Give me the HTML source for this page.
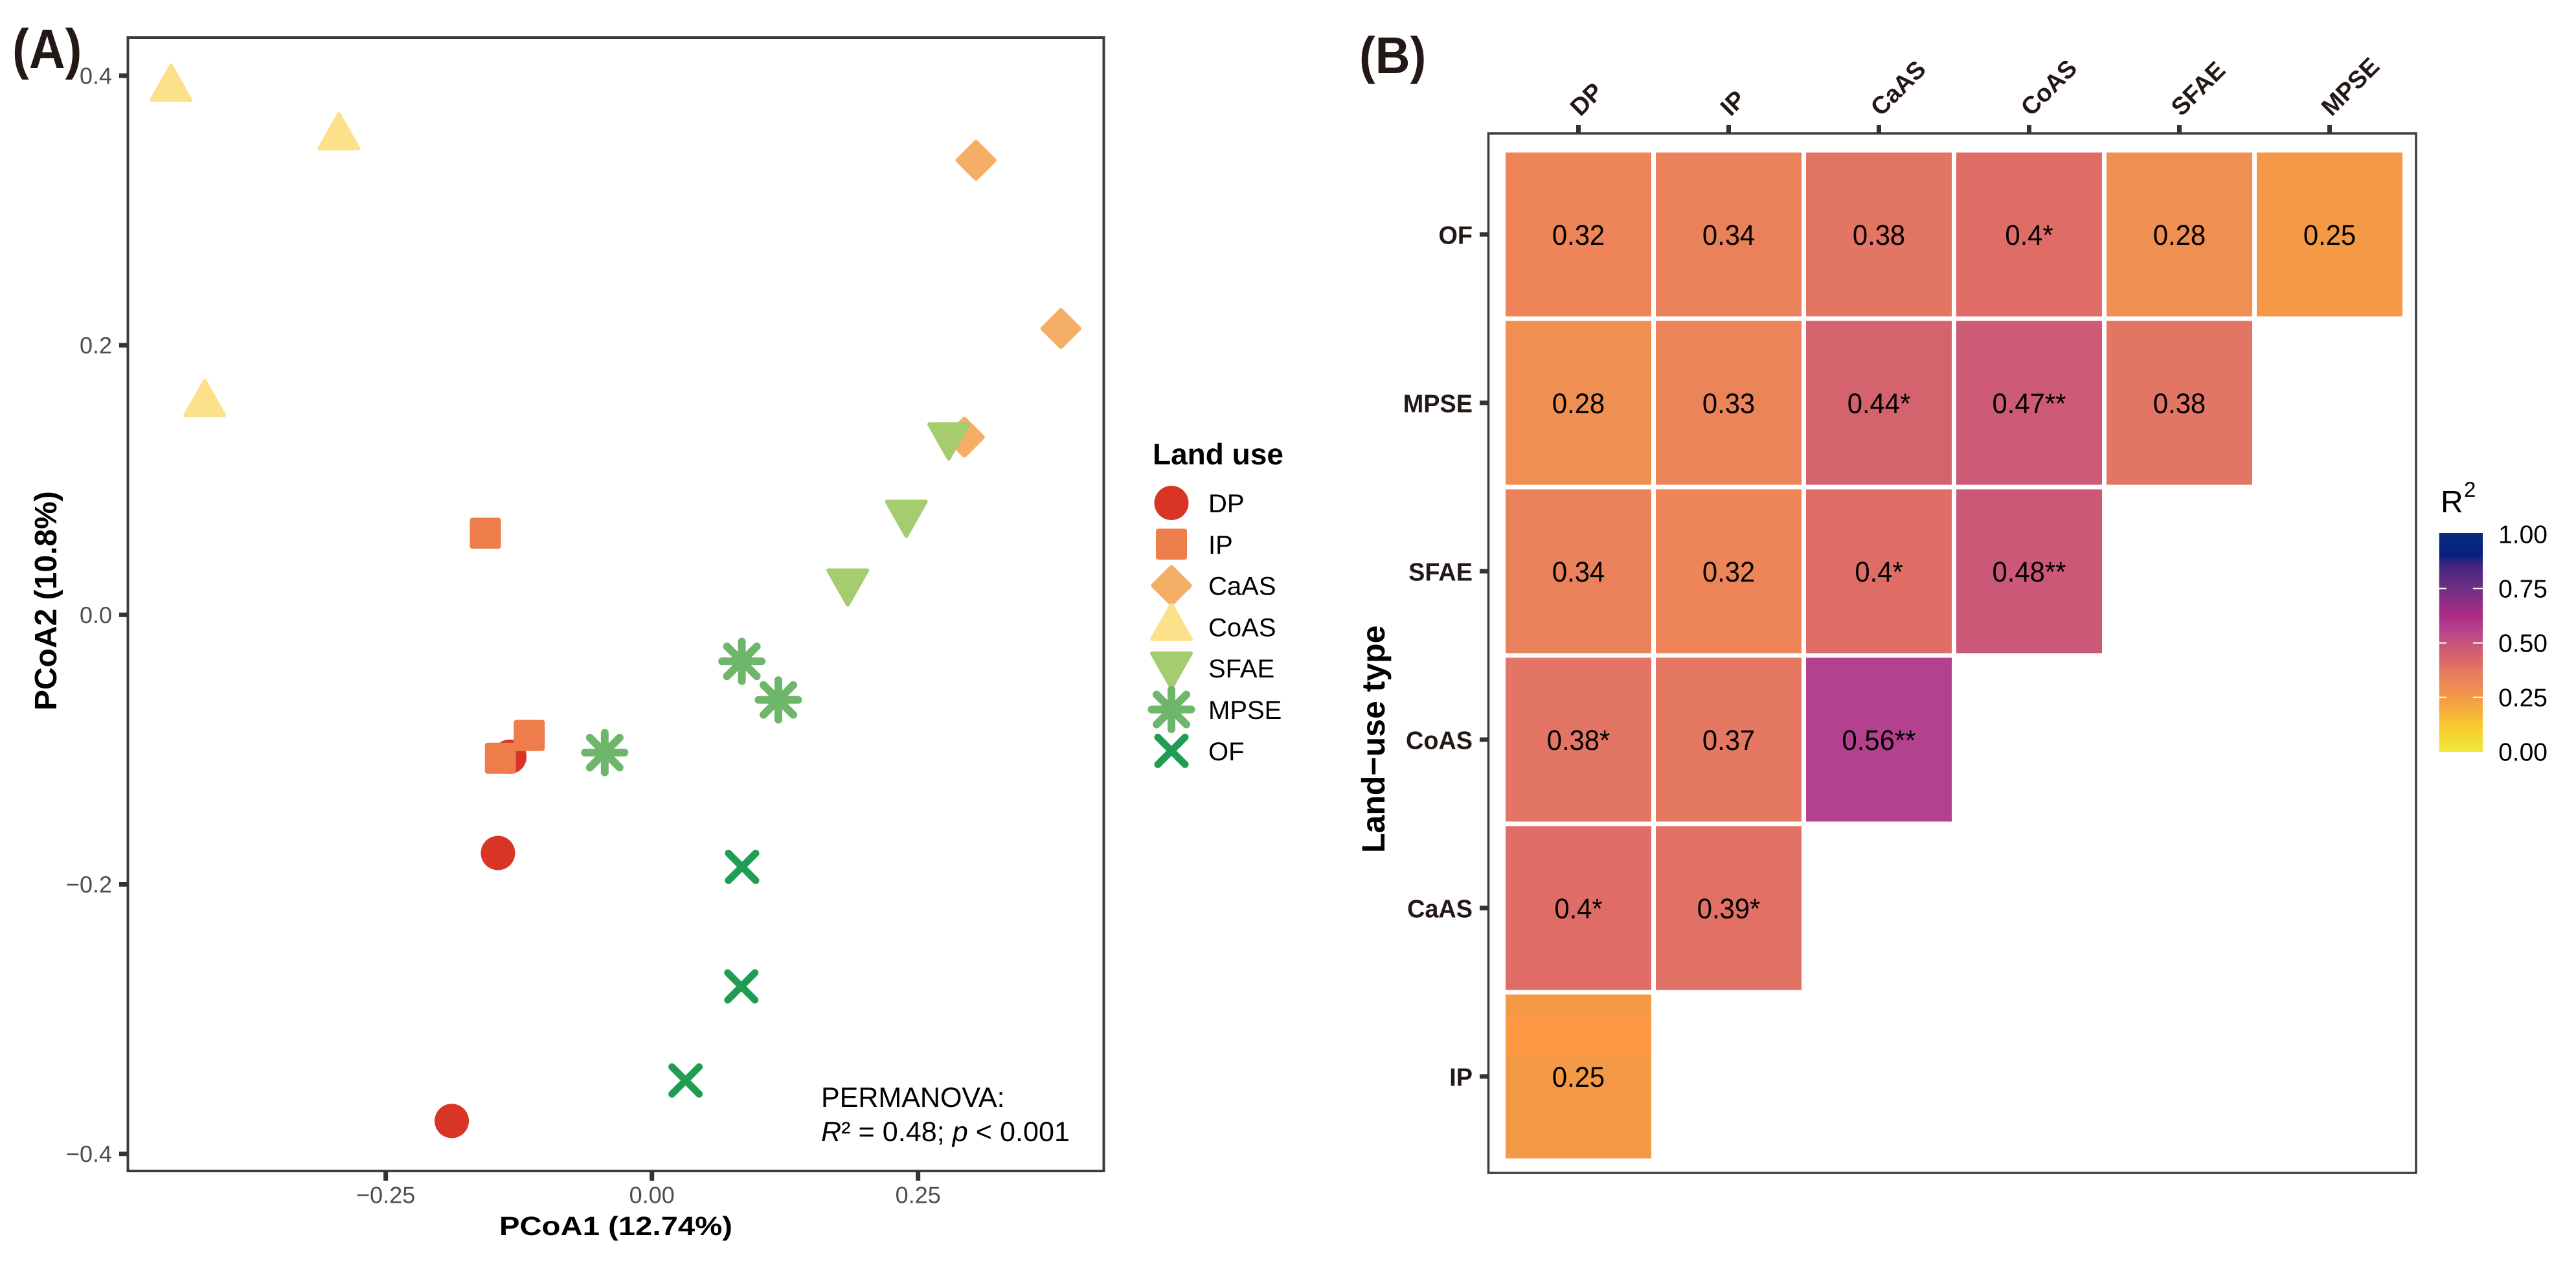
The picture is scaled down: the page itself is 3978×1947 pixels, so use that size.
<!DOCTYPE html>
<html lang="en">
<head>
<meta charset="utf-8">
<title>PCoA ordination and pairwise PERMANOVA heatmap</title>
<style>
  html, body { margin: 0; padding: 0; background: #ffffff; }
  body { width: 3978px; height: 1947px; overflow: hidden; }
  svg { display: block; font-family: "Liberation Sans", Arial, sans-serif; text-rendering: geometricPrecision; }
  text { fill: #000000; }
</style>
</head>
<body>
<svg id="figure" xmlns="http://www.w3.org/2000/svg" width="3978" height="1947" viewBox="0 0 3978 1947">
  <rect x="0" y="0" width="3978" height="1947" fill="#ffffff"/>
  <defs>
    <linearGradient id="colorbar-gradient" x1="0" y1="1" x2="0" y2="0"></linearGradient>
  </defs>

  <text transform="translate(19,105) scale(0.9,1)" font-size="86" font-weight="700" style="fill:#231815">(A)</text>
  <text transform="translate(2099,113) scale(0.93,1)" font-size="80" font-weight="700" style="fill:#231815">(B)</text>

  <g id="panel-a">
    <rect x="197.5" y="58" width="1507" height="1750" fill="none" stroke="#3c3c3c" stroke-width="4"/>
    <g id="a-axes"></g>
    <g id="a-points"></g>
    <text x="771" y="1907" font-size="41" font-weight="700" textLength="360" lengthAdjust="spacingAndGlyphs">PCoA1 (12.74%)</text>
    <text transform="translate(87,1097) rotate(-90)" font-size="48" font-weight="700">PCoA2 (10.8%)</text>
    <text x="1268" y="1709" font-size="43">PERMANOVA:</text>
    <text x="1268" y="1762" font-size="43" textLength="384" lengthAdjust="spacingAndGlyphs"><tspan font-style="italic">R</tspan>² = 0.48; <tspan font-style="italic">p</tspan> &lt; 0.001</text>
  </g>

  <g id="a-legend">
    <text x="1780" y="717" font-size="46" font-weight="700">Land use</text>
  </g>

  <g id="panel-b">
    <g id="b-cells"></g>
    <rect x="2298.5" y="206" width="1432.5" height="1605" fill="none" stroke="#3c3c3c" stroke-width="3.5"/>
    <g id="b-axes"></g>
    <text transform="translate(2138,1317) rotate(-90)" font-size="50" font-weight="700">Land−use type</text>
  </g>

  <g id="b-legend">
    <text x="3769" y="791" font-size="48">R</text>
    <text x="3805" y="767" font-size="33">2</text>
    <rect x="3766.7" y="823" width="67.3" height="338" fill="url(#colorbar-gradient)"/>
    <g id="b-legend-ticks"></g>
  </g>
</svg>

<script>
// ---------- Panel A data ----------
const xTickValues = [-0.25, 0, 0.25];
const xTickLabels = ['−0.25', '0.00', '0.25'];
const yTickValues = [0.4, 0.2, 0, -0.2, -0.4];
const yTickLabels = ['0.4', '0.2', '0.0', '−0.2', '−0.4'];

const seriesNames = ['DP', 'IP', 'CaAS', 'CoAS', 'SFAE', 'MPSE', 'OF'];

const dpX = [-0.188, -0.1446, -0.1338];
const dpY = [-0.3755, -0.1767, -0.1053];
const ipX = [-0.1564, -0.1152, -0.1423];
const ipY = [0.0605, -0.0895, -0.1064];
const caasX = [0.3044, 0.3842, 0.2935];
const caasY = [0.3372, 0.2124, 0.1318];
const coasX = [-0.4517, -0.294, -0.42];
const coasY = [0.395, 0.359, 0.161];
const sfaeX = [0.2788, 0.239, 0.184];
const sfaeY = [0.1284, 0.071, 0.02];
const mpseX = [0.0845, 0.1188, -0.0443];
const mpseY = [-0.0345, -0.0631, -0.1022];
const ofX = [0.0847, 0.084, 0.0316];
const ofY = [-0.187, -0.2757, -0.3455];

// ---------- Panel B data ----------
const colLabels = ['DP', 'IP', 'CaAS', 'CoAS', 'SFAE', 'MPSE'];
const rowLabels = ['OF', 'MPSE', 'SFAE', 'CoAS', 'CaAS', 'IP'];
const r2Values = [
  [0.32, 0.34, 0.38, 0.4, 0.28, 0.25],
  [0.28, 0.33, 0.44, 0.47, 0.38],
  [0.34, 0.32, 0.4, 0.48],
  [0.38, 0.37, 0.56],
  [0.4, 0.39],
  [0.25]
];
const significance = [
  ['', '', '', '*', '', ''],
  ['', '', '*', '**', ''],
  ['', '', '*', '**'],
  ['*', '', '**'],
  ['*', '*'],
  ['']
];
const colorbarValues = [1, 0.75, 0.5, 0.25, 0];
const colorbarLabels = ['1.00', '0.75', '0.50', '0.25', '0.00'];

// Colour scale
const scaleValues = [0, 0.1, 0.25, 0.28, 0.32, 0.34, 0.38, 0.4, 0.44, 0.48, 0.56, 0.62, 0.75, 0.85, 0.9, 1];
const scaleColors = ['#EEEA3A', '#F8CF2E', '#F49A47', '#EF8F51', '#EE8558', '#E9825A', '#E27564', '#DF6D66', '#D4636E', '#CC5877', '#B4418E', '#AE2C85', '#6E3085', '#44247F', '#05207F', '#0A2A7A'];

// ---------- Axis functions ----------
function xA(v) { return 1006.7 + v * 1644; }
function yA(v) { return 949.3 - v * 2081; }
function xB(i) { return 2437.5 + 232 * i; }
function yB(i) { return 362 + 260 * i; }
function yBar(v) { return 1160.7 - v * 336; }

const NS = 'http://www.w3.org/2000/svg';
const seriesColor = { DP: '#D93526', IP: '#EE7D4C', CaAS: '#F5AE65', CoAS: '#FCE08A', SFAE: '#A6CC70', MPSE: '#6DB66A', OF: '#1F9E53' };

function lineEl(parent, x1, y1, x2, y2, color, width) {
  const l = document.createElementNS(NS, 'line');
  l.setAttribute('x1', x1);
  l.setAttribute('y1', y1);
  l.setAttribute('x2', x2);
  l.setAttribute('y2', y2);
  l.setAttribute('stroke', color);
  l.setAttribute('stroke-width', width);
  parent.appendChild(l);
  return l;
}

function textEl(parent, str, x, y, size, opts) {
  const o = opts || {};
  const t = document.createElementNS(NS, 'text');
  t.textContent = str;
  t.setAttribute('font-size', size);
  t.setAttribute('text-anchor', o.anchor || 'start');
  if (o.bold) t.setAttribute('font-weight', '700');
  if (o.color) t.style.fill = o.color;
  let tf = 'translate(' + x + ',' + y + ')';
  if (o.rotate) tf += ' rotate(' + o.rotate + ')';
  if (o.sx) tf += ' scale(' + o.sx + ',1)';
  t.setAttribute('transform', tf);
  parent.appendChild(t);
  return t;
}

function marker(parent, series, cx, cy) {
  const c = seriesColor[series];
  const g = document.createElementNS(NS, 'g');
  g.setAttribute('transform', 'translate(' + cx + ',' + cy + ')');
  g.setAttribute('fill', c);
  g.setAttribute('stroke', c);
  g.setAttribute('stroke-linejoin', 'round');
  g.setAttribute('stroke-linecap', 'round');
  let s;
  if (series === 'DP') {
    s = document.createElementNS(NS, 'circle');
    s.setAttribute('r', 26.5);
    s.setAttribute('stroke', 'none');
    g.appendChild(s);
  } else if (series === 'IP') {
    s = document.createElementNS(NS, 'rect');
    s.setAttribute('x', -20);
    s.setAttribute('y', -20);
    s.setAttribute('width', 40);
    s.setAttribute('height', 40);
    s.setAttribute('stroke-width', 8);
    g.appendChild(s);
  } else if (series === 'CaAS') {
    s = document.createElementNS(NS, 'polygon');
    s.setAttribute('points', '0,-28 28,0 0,28 -28,0');
    s.setAttribute('stroke-width', 7);
    g.appendChild(s);
  } else if (series === 'CoAS') {
    s = document.createElementNS(NS, 'polygon');
    s.setAttribute('points', '0,-26 30,27 -30,27');
    s.setAttribute('stroke-width', 6);
    g.appendChild(s);
  } else if (series === 'SFAE') {
    s = document.createElementNS(NS, 'polygon');
    s.setAttribute('points', '0,26 30,-27 -30,-27');
    s.setAttribute('stroke-width', 6);
    g.appendChild(s);
  } else if (series === 'MPSE') {
    lineEl(g, -30.5, 0, 30.5, 0, c, 12);
    lineEl(g, 0, -30.5, 0, 30.5, c, 12);
    lineEl(g, -23, -23, 23, 23, c, 12);
    lineEl(g, -23, 23, 23, -23, c, 12);
  } else {
    lineEl(g, -21, -21, 21, 21, c, 11);
    lineEl(g, -21, 21, 21, -21, c, 11);
  }
  parent.appendChild(g);
  return g;
}

// ---------- Panel A axes ----------
const aAxes = document.getElementById('a-axes');
xTickValues.forEach(function (v, i) {
  const tick = lineEl(aAxes, xA(v), 1808, xA(v), 1823, '#333333', 7);
  
  
  const label = textEl(aAxes, xTickLabels[i], xA(v), 1857.5, 36, { anchor: 'middle', color: '#4d4d4d' });
  
  
});
yTickValues.forEach(function (v, i) {
  const tick = lineEl(aAxes, 184, yA(v), 197, yA(v), '#333333', 7);
  
  
  const label = textEl(aAxes, yTickLabels[i], 173, yA(v) + 12.5, 36, { anchor: 'end', color: '#4d4d4d' });
  
  
});

// ---------- Panel A points ----------
const aPoints = document.getElementById('a-points');
const seriesX = [dpX, ipX, caasX, coasX, sfaeX, mpseX, ofX];
const seriesY = [dpY, ipY, caasY, coasY, sfaeY, mpseY, ofY];
seriesNames.forEach(function (name, s) {
  seriesX[s].forEach(function (xv, i) {
    const pt = marker(aPoints, name, xA(xv), yA(seriesY[s][i]));
    
    
  });
});

// ---------- Panel A legend ----------
const aLegend = document.getElementById('a-legend');
const legendMarkerShift = { CoAS: -8, SFAE: 4 };
seriesNames.forEach(function (name, i) {
  const rowY = 776.5 + 63.8 * i;
  const sym = marker(aLegend, name, 1809, rowY + (legendMarkerShift[name] || 0));
  
  
  const lab = textEl(aLegend, name, 1866, rowY + 14.5, 40, { color: '#000000' });
  
  
});

// ---------- Colour scale ----------
function hexToRgb(h) {
  return [parseInt(h.slice(1, 3), 16), parseInt(h.slice(3, 5), 16), parseInt(h.slice(5, 7), 16)];
}
function scaleColor(v) {
  let k = 0;
  while (k < scaleValues.length - 2 && v > scaleValues[k + 1]) k++;
  const f = Math.max(0, Math.min(1, (v - scaleValues[k]) / (scaleValues[k + 1] - scaleValues[k])));
  const a = hexToRgb(scaleColors[k]);
  const b = hexToRgb(scaleColors[k + 1]);
  return 'rgb(' + [0, 1, 2].map(function (j) { return Math.round(a[j] + (b[j] - a[j]) * f); }).join(',') + ')';
}

// ---------- Panel B cells ----------
const bCells = document.getElementById('b-cells');
r2Values.forEach(function (row, r) {
  row.forEach(function (val, c) {
    const cell = document.createElementNS(NS, 'rect');
    cell.setAttribute('x', xB(c) - 112.5);
    cell.setAttribute('y', yB(r) - 126.5);
    cell.setAttribute('width', 225);
    cell.setAttribute('height', 253);
    cell.setAttribute('fill', scaleColor(val));
    
    
    bCells.appendChild(cell);
  });
});

// brighter print band visible in the IP × DP cell of the reference
const band = document.createElementNS(NS, 'rect');
band.setAttribute('x', xB(0) - 112.5);
band.setAttribute('y', yB(5) - 90);
band.setAttribute('width', 225);
band.setAttribute('height', 59);
band.setAttribute('fill', '#FF9843');


bCells.appendChild(band);

r2Values.forEach(function (row, r) {
  row.forEach(function (val, c) {
    const label = textEl(bCells, String(val) + significance[r][c], xB(c), yB(r) + 16, 44, { anchor: 'middle', sx: 0.95 });
    
    
  });
});

// ---------- Panel B axes ----------
const bAxes = document.getElementById('b-axes');
colLabels.forEach(function (name, i) {
  const tick = lineEl(bAxes, xB(i), 193, xB(i), 206, '#333333', 7);
  
  
  const label = textEl(bAxes, name, xB(i) + 3, 181, 38, { bold: true, rotate: -45, color: '#231815' });
  
  
});
rowLabels.forEach(function (name, i) {
  const tick = lineEl(bAxes, 2285, yB(i), 2298, yB(i), '#333333', 7);
  
  
  const label = textEl(bAxes, name, 2274, yB(i) + 14.5, 39, { anchor: 'end', bold: true, color: '#231815', sx: 0.97 });
  
  
});

// ---------- Colourbar ----------
const grad = document.getElementById('colorbar-gradient');
scaleValues.forEach(function (v, i) {
  const stop = document.createElementNS(NS, 'stop');
  stop.setAttribute('offset', v);
  stop.setAttribute('stop-color', scaleColors[i]);
  grad.appendChild(stop);
});
const bTicks = document.getElementById('b-legend-ticks');
colorbarValues.forEach(function (v, i) {
  const y = yBar(v);
  if (v > 0 && v < 1) {
    const left = lineEl(bTicks, 3766.7, y, 3778, y, '#ffffff', 2);
    
    
    const right = lineEl(bTicks, 3819, y, 3834, y, '#ffffff', 2);
    
    
  }
  const label = textEl(bTicks, colorbarLabels[i], 3934, y + 14, 39, { anchor: 'end' });
  
  
});
</script>
</body>
</html>
